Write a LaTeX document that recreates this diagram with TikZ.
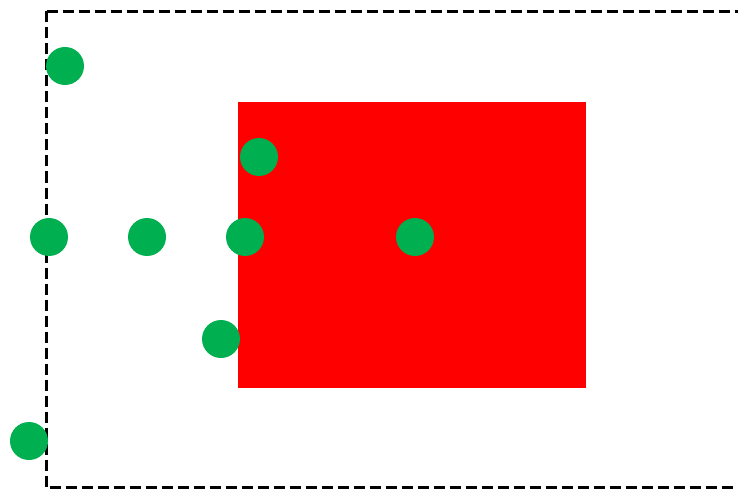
\documentclass[tikz,border=0pt]{standalone}
\definecolor{dotgreen}{RGB}{0,176,80}
\begin{document}
\begin{tikzpicture}[x=1pt,y=-1pt,
  dot/.style={circle,fill=dotgreen,draw=none,minimum size=38pt,inner sep=0pt},
  frame/.style={draw=black,line width=3.8pt,dash pattern=on 11pt off 5pt},
  redbox/.style={fill=red,draw=none}]
\useasboundingbox (0,0) rectangle (738,489);
\fill[white] (0,0) rectangle (738,489);
\draw[frame] (46.5,11.5) -- (745,11.5);
\draw[frame] (46.5,11.5) -- (46.5,488) -- (745,488);
\path[redbox] (238,102) rectangle (586,388);
\node[dot] (a) at (65,66) {};
\node[dot] (b) at (259,157) {};
\node[dot] (c) at (49,237) {};
\node[dot] (d) at (147,237) {};
\node[dot] (e) at (245,237) {};
\node[dot] (f) at (415,237) {};
\node[dot] (g) at (221,339) {};
\node[dot] (h) at (29,441) {};
\end{tikzpicture}
\end{document}
